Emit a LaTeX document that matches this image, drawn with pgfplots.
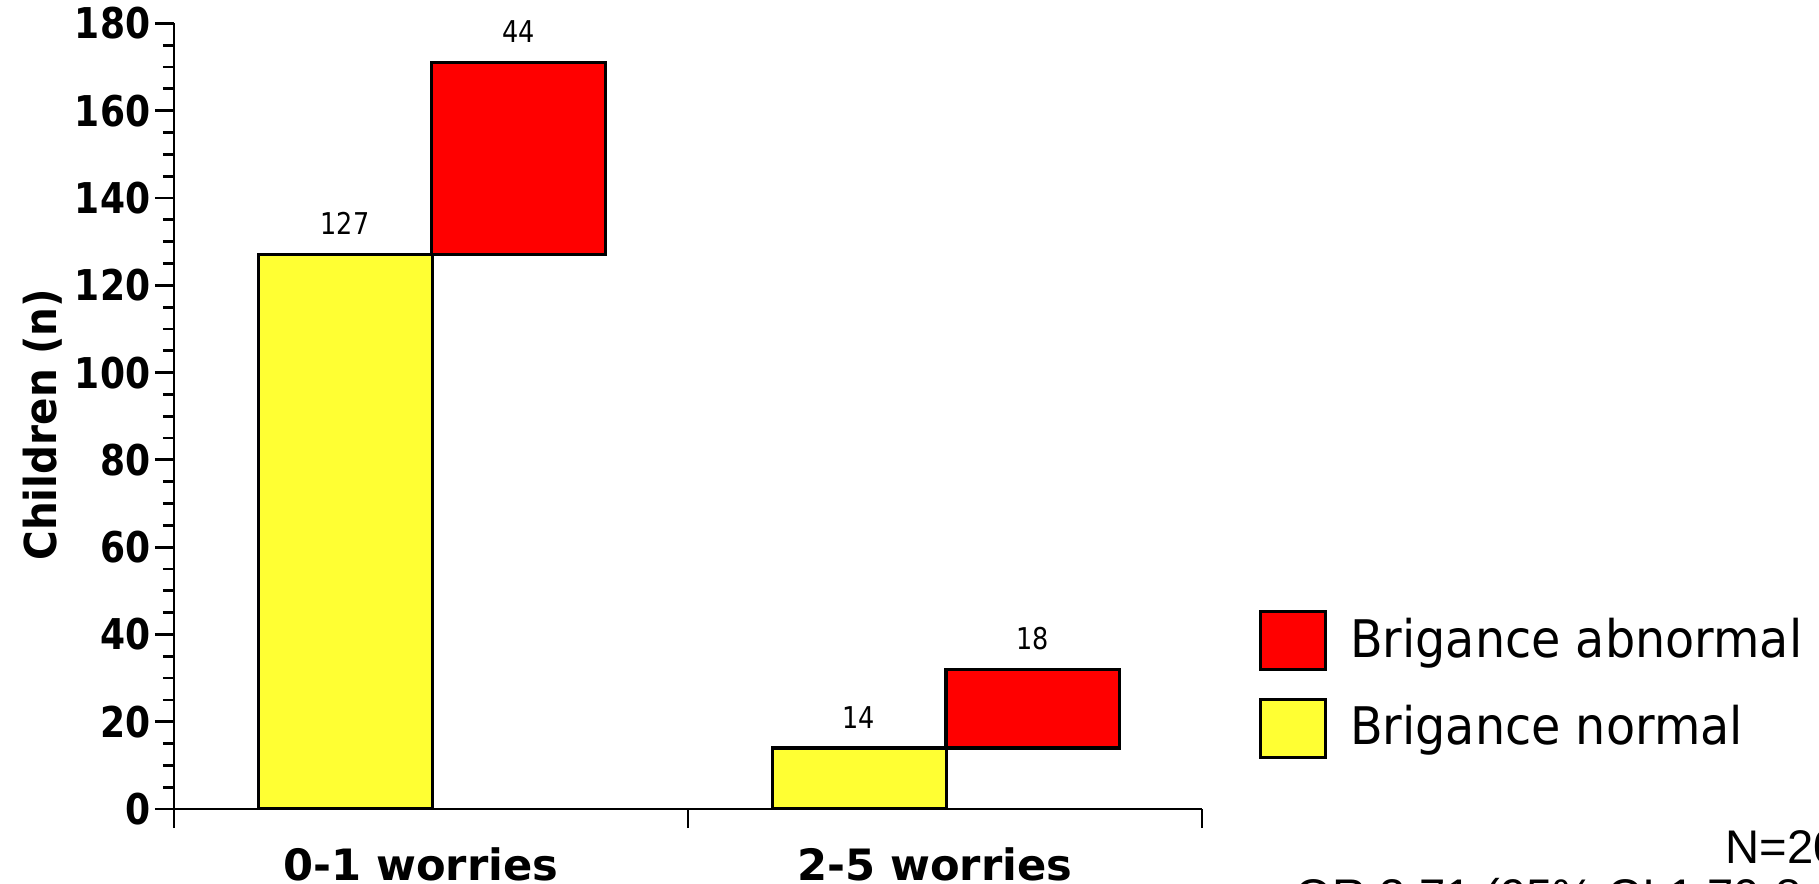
\documentclass[border=0pt]{standalone}
\usepackage{fontspec}
\usepackage{pgfplots}
\pgfplotsset{compat=1.18, compat/bar nodes=1.8}
\setmainfont{DejaVu Sans}
\newfontfamily\lgfont{DejaVu Sans}[FakeStretch=0.92]
\newfontfamily\tkfont{DejaVu Sans}[FakeStretch=0.85]
\newfontfamily\arialfont{Liberation Sans}
\definecolor{byellow}{RGB}{255,255,51}
\definecolor{bred}{RGB}{255,0,0}

\begin{document}
\begin{tikzpicture}
\useasboundingbox (-43.5pt,-18.5pt) rectangle (411.25pt,202.25pt);
\clip (-43.5pt,-18.5pt) rectangle (411.25pt,202.25pt);
\begin{axis}[
    at={(0,0)}, anchor=south west,
    scale only axis, width=257pt, height=196.4pt,
    ybar stacked, bar width=0.3385,
    xmin=-0.5, xmax=1.5, ymin=0, ymax=180,
    axis x line=bottom, axis y line=left,
    axis line style={-, line width=0.7pt, black},
    every tick/.style={black, line width=0.7pt},
    tick align=outside,
    major tick length=4.75pt, minor tick length=2.75pt,
    ytick={0,20,...,180}, minor y tick num=3,
    /pgf/number format/assume math mode=true,
    yticklabel style={font=\tkfont\bfseries\fontsize{10.6}{12}\selectfont, inner sep=1pt},
    xtick={-0.5,0.5,1.5}, xticklabels={},
    extra x ticks={0,1},
    extra x tick labels={0-1 worries,2-5 worries},
    extra x tick style={major tick length=0pt,
        xticklabel style={font=\bfseries\fontsize{10.8}{13}\selectfont, anchor=base, xshift=-2.6pt, yshift=-17.8pt}},
    ylabel={Children (n)},
    ylabel style={at={(axis description cs:-0.128,0.489)}, anchor=center,
        font=\lgfont\bfseries\fontsize{11}{13}\selectfont},
    point meta=explicit,
    nodes near coords={\pgfmathprintnumber{\pgfplotspointmeta}},
    every node near coord/.append style={font=\tkfont\fontsize{7.5}{9}\selectfont, black, anchor=south, yshift=1.2pt},
    reverse legend,
    legend style={at={(axis description cs:1.0545,0.2545)}, anchor=north west,
        draw=none, fill=none, inner sep=0pt, row sep=6.6pt, column sep=3.75pt,
        font=\lgfont\fontsize{12.95}{15}\selectfont},
    legend cell align=left,
    legend image code/.code={\draw[#1, line width=0.8pt] (0pt,-7.25pt) rectangle (16.25pt,7.25pt);},
]
\addplot[fill=byellow, draw=black, line width=0.8pt, bar shift=-0.167,
    every node near coord/.append style={xshift=-21.5pt}]
    coordinates {(0,127) [127] (1,14) [14]};
\addplot[fill=bred, draw=black, line width=0.8pt, bar shift=0.171,
    every node near coord/.append style={xshift=22pt}]
    coordinates {(0,44) [44] (1,18) [18]};
\legend{Brigance normal, Brigance abnormal}
\end{axis}
\node[anchor=base west, inner sep=0pt, font=\arialfont\fontsize{11.8}{13}\selectfont] at (387.75pt,-13.6pt) {N=203};
\node[anchor=base west, inner sep=0pt, font=\arialfont\fontsize{11.8}{13}\selectfont] at (280.25pt,-25.8pt) {OR 3.71 (95\% CI 1.70-8.08)};
\end{tikzpicture}
\end{document}
